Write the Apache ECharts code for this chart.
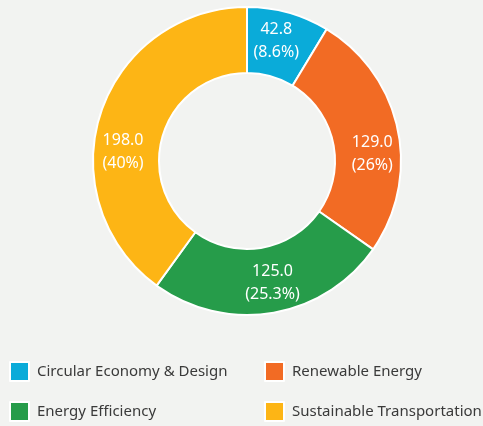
<!DOCTYPE html>
<html>
<head>
<meta charset="utf-8">
<script src="https://cdn.jsdelivr.net/npm/echarts@6/dist/echarts.min.js"></script>
<style>
  html, body { margin: 0; padding: 0; background: #f2f3f1; }
  #chart { width: 483px; height: 426px; }
</style>
</head>
<body>
<div id="chart"></div>
<script>
// Investment by category
const categories = ['Circular Economy & Design', 'Renewable Energy', 'Energy Efficiency', 'Sustainable Transportation'];
const values = [42.8, 129.0, 125.0, 198.0];
const shareLabels = ['8.6%', '26%', '25.3%', '40%'];
const colors = ['#0aabd9', '#f26b24', '#269c4a', '#fdb515'];
// small nudges applied to each slice label
const labelNudgeX = [-4, 4, 5, -6];
const labelNudgeY = [-1, 19, 0, 29];
// legend grid: two columns, two rows
const legendCol = [9, 264, 9, 264];
const legendRow = [361, 361, 401, 401];

const chart = echarts.init(document.getElementById('chart'));

const data = categories.map((name, i) => ({
  name: name,
  value: values[i],
  itemStyle: { color: colors[i] }
}));

const legends = categories.map((name, i) => ({
  left: legendCol[i],
  top: legendRow[i],
  padding: 0,
  itemWidth: 19,
  itemHeight: 19,
  icon: 'rect',
  selectedMode: false,
  data: [name],
  textStyle: {
    color: '#3a3a3a',
    fontSize: 15,
    fontFamily: "'Noto Sans', sans-serif",
    padding: [0, 0, 0, 3]
  }
}));

chart.setOption({
  backgroundColor: '#f2f3f1',
  animation: false,
  legend: legends,
  series: [{
    type: 'pie',
    center: [247, 161],
    radius: [88, 154],
    startAngle: 90,
    clockwise: true,
    data: data,
    itemStyle: { borderColor: '#ffffff', borderWidth: 2 },
    label: {
      show: true,
      position: 'inside',
      color: '#ffffff',
      fontSize: 16,
      lineHeight: 23,
      fontFamily: "'Noto Sans', sans-serif",
      formatter: p => values[p.dataIndex].toFixed(1) + '\n(' + shareLabels[p.dataIndex] + ')'
    },
    labelLayout: p => ({ dx: labelNudgeX[p.dataIndex], dy: labelNudgeY[p.dataIndex] }),
    emphasis: { disabled: true }
  }]
});
</script>
</body>
</html>
